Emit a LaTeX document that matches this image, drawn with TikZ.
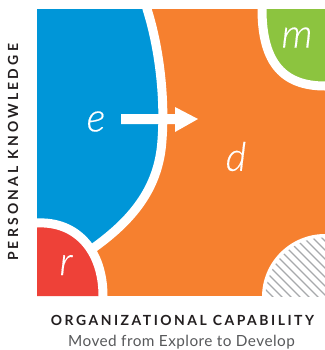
\documentclass[tikz,border=0pt]{standalone}
\usepackage{fontspec}
\setmainfont{Lato}
\newfontfamily\capsfont{Lato}[LetterSpace=18]
\newfontfamily\vcapsfont{Lato}[LetterSpace=23]
\newfontfamily\subfont{Lato}[LetterSpace=3]
\newfontfamily\lightit{Lato Light Italic}[FakeBold=0.3]
\definecolor{cBlue}{HTML}{0096D8}
\definecolor{cOrange}{HTML}{F6802F}
\definecolor{cGreen}{HTML}{8CC43F}
\definecolor{cRed}{HTML}{EE4138}
\definecolor{cInk}{HTML}{231F20}
\definecolor{cSub}{HTML}{58595B}
\definecolor{cHatch}{HTML}{A7A9AC}
\tikzset{
  sep/.style={draw=white, line width=9bp},
  letter/.style={text=white, inner sep=0pt, font=\lightit\fontsize{40}{40}\selectfont},
  axis/.style={text=cInk, inner sep=0pt, font=\capsfont\fontsize{14}{14}\selectfont\bfseries},
  vaxis/.style={text=cInk, inner sep=0pt, font=\vcapsfont\fontsize{14}{14}\selectfont\bfseries},
  sub/.style={text=cSub, inner sep=0pt, font=\subfont\fontsize{15.4}{16}\selectfont},
  hatch/.style={draw=cHatch, line width=1.3bp}
}
\begin{document}
\begin{tikzpicture}[x=1bp,y=-1bp]
\useasboundingbox (0,0) rectangle (325,350);
\fill[white] (0,0) rectangle (325,350);
\begin{scope}
\clip (37,9) rectangle (325,296);
\fill[cOrange] (37,9) rectangle (325,296);
% blue region
\fill[cBlue] (37,9) -- (147,9) .. controls (160,50) and (165,100) .. (162,140) .. controls (159,190) and (130,222) .. (92,249) -- (37,249) -- cycle;
\draw[sep] (146,0) -- (147,9) .. controls (160,50) and (165,100) .. (162,140) .. controls (159,190) and (130,222) .. (92,249);
% red region
\fill[cRed] (37,223) .. controls (77,221) and (103,251) .. (103,296) -- (37,296) -- cycle;
\draw[sep] (30,223) -- (37,223) .. controls (77,221) and (103,251) .. (103,296) -- (103,300);
% green region
\fill[cGreen] (262,9) .. controls (262,65) and (285,86) .. (325,86) -- (325,9) -- cycle;
\draw[sep] (262,0) -- (262,9) .. controls (262,65) and (285,86) .. (325,86) -- (330,86);
% hatched region
\fill[white] (325,297) circle (63);
\begin{scope}
\clip (325,297) circle (59.5);
\foreach \c in {-42,-33,...,100} {
  \draw[hatch] (\c+150,150) -- (\c+320,320);
}
\end{scope}
\end{scope}
% arrow
\fill[white] (121,114) -- (175,114) -- (175,107) -- (198,119) -- (175,132) -- (175,124) -- (121,124) -- cycle;
% letters
\node[letter] (e) at (96,121.5) {e};
\node[letter] (d) at (236,156.5) {d};
\node[letter] (m) at (297,37.5) {m};
\node[letter] (r) at (66,265) {r};
% axis labels
\node[vaxis, rotate=90] (pk) at (13,152.5) {PERSONAL KNOWLEDGE};
\node[axis] (oc) at (182.5,320) {ORGANIZATIONAL CAPABILITY};
\node[sub] (mv) at (181.5,342) {Moved from Explore to Develop};
\end{tikzpicture}
\end{document}
